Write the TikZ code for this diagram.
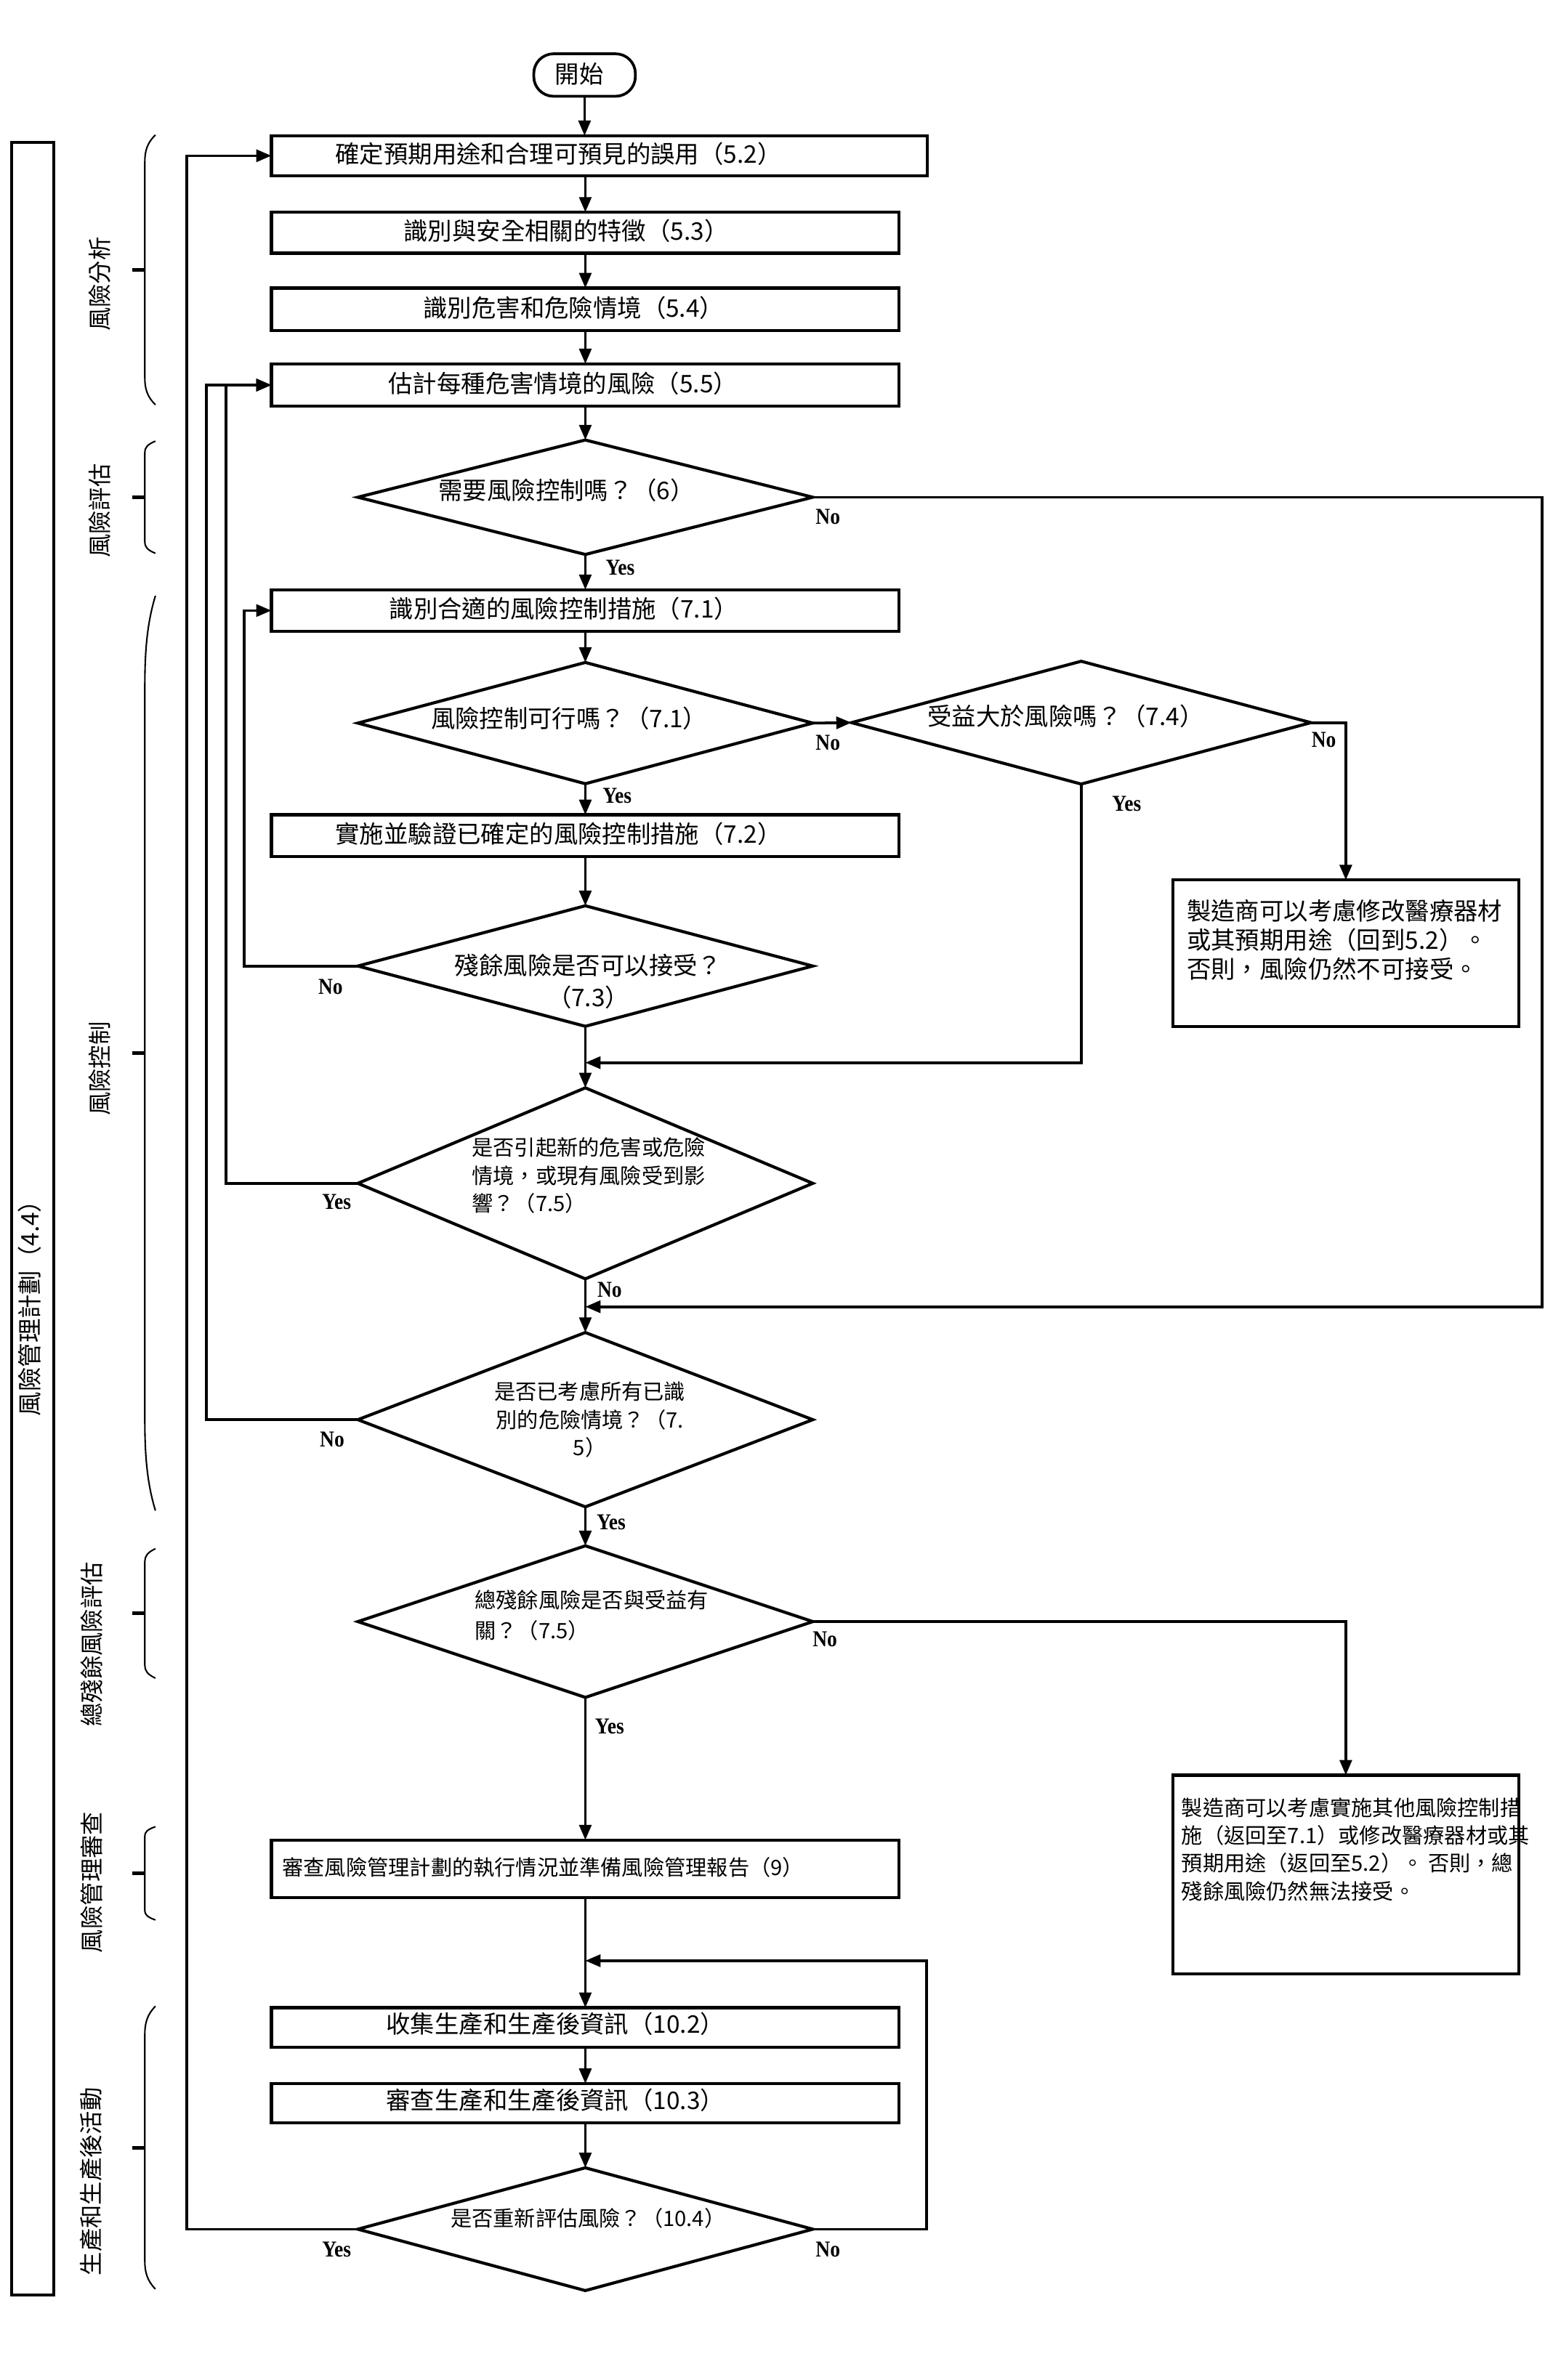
\documentclass[tikz,border=0pt]{standalone}
\usepackage{fontspec}
\setmainfont{Noto Sans CJK TC}
\newfontfamily\ynfont[FakeStretch=0.88]{Liberation Serif}
\usetikzlibrary{shapes.geometric,arrows.meta}
\begin{document}
\begin{tikzpicture}[x=1pt,y=-1pt,
  box/.style={draw, line width=2pt, rectangle, inner sep=0pt, outer sep=0pt},
  dia/.style={draw, line width=2pt, diamond, inner sep=0pt, outer sep=0pt},
  conn/.style={line width=1.8pt},
  arr/.style={conn, -{Triangle[length=10pt,width=8pt]}},
  tsixteen/.style={font=\fontsize{16}{19.5}\selectfont, inner sep=0pt},
  tfourteen/.style={font=\fontsize{14}{18.5}\selectfont, inner sep=0pt},
  yn/.style={font=\ynfont\bfseries\fontsize{15}{15}\selectfont, inner sep=0pt},
  phase/.style={rotate=90, font=\fontsize{15.5}{18}\selectfont, inner sep=0pt},
  bracel/.style={line width=1pt},
  tickl/.style={line width=2.5pt}
]
\fill[white] (0,0) rectangle (1024,1570);
\useasboundingbox (0,0) rectangle (1024,1570);

% left frame and phase labels
\node[box, minimum width=28pt, minimum height=1420pt] (plan) at (21.65,803.85) {};
\node[phase, font=\fontsize{16}{19}\selectfont] (plant) at (19.5,859) {風險管理計劃（4.4）};

\foreach \ta/\tb in {89/267, 291/365, 393/996.5, 1021.6/1107, 1205/1266.5, 1323.4/1510}{
  \pgfmathsetmacro\tc{0.1*(\tb-\ta)}
  \pgfmathsetmacro\tm{0.5*(\tb+\ta)}
  \draw[bracel] (102.5,\ta) .. controls (97,\ta+0.3*\tc) and (95.5,\ta+0.6*\tc) .. (95.5,\ta+\tc) -- (95.5,\tb-\tc) .. controls (95.5,\tb-0.6*\tc) and (97,\tb-0.3*\tc) .. (102.5,\tb);
  \draw[tickl] (87,\tm) -- (95.5,\tm);
}
\node[phase] (p1) at (65.6,187.5) {風險分析};
\node[phase] (p2) at (65.6,337) {風險評估};
\node[phase] (p3) at (65.6,705) {風險控制};
\node[phase] (p4) at (60.4,1084.6) {總殘餘風險評估};
\node[phase] (p5) at (60.4,1241.7) {風險管理審查};
\node[phase] (p6) at (60,1439) {生產和生產後活動};

% start
\node[draw, line width=1.8pt, rounded corners=13pt, minimum width=67pt, minimum height=28pt, inner sep=0pt, outer sep=0pt] (st) at (385.5,49.5) {};
\node[tsixteen] (xst) at (382,49) {開始};

% boxes
\node[box, minimum width=432.5pt, minimum height=26.5pt] (b52) at (395.25,102.75) {};
\node[box, minimum width=414pt, minimum height=27pt] (b53) at (386,153.5) {};
\node[box, minimum width=414pt, minimum height=28pt] (b54) at (386,204) {};
\node[box, minimum width=414pt, minimum height=28pt] (b55) at (386,254) {};
\node[box, minimum width=414pt, minimum height=27.5pt] (b71) at (386,402.75) {};
\node[box, minimum width=414pt, minimum height=27.5pt] (b72) at (386,551.25) {};
\node[box, minimum width=414pt, minimum height=38pt] (b9) at (386,1232.75) {};
\node[box, minimum width=414pt, minimum height=26pt] (b102) at (386,1337.35) {};
\node[box, minimum width=414pt, minimum height=26pt] (b103) at (386,1387.5) {};
\node[box, minimum width=228pt, minimum height=96.5pt] (r1) at (887.5,628.75) {};
\node[box, minimum width=228pt, minimum height=131pt] (r2) at (887.5,1236.5) {};

% diamonds
\node[dia, minimum width=300pt, minimum height=75.5pt] (d6) at (386,328) {};
\node[dia, minimum width=300pt, minimum height=80pt] (d71) at (386,477) {};
\node[dia, minimum width=303pt, minimum height=81pt] (d74) at (713,476.7) {};
\node[dia, minimum width=300pt, minimum height=79.5pt] (d73) at (386,637.25) {};
\node[dia, minimum width=300pt, minimum height=126pt] (d75a) at (386,780.6) {};
\node[dia, minimum width=300pt, minimum height=115pt] (d75b) at (386,936.5) {};
\node[dia, minimum width=300pt, minimum height=100pt] (dtot) at (386,1069.7) {};
\node[dia, minimum width=300pt, minimum height=81pt] (d104) at (386,1470.5) {};

% texts
\node[tsixteen, anchor=west] (x52) at (221,101.5) {確定預期用途和合理可預見的誤用（5.2）};
\node[tsixteen, anchor=west] (x53) at (266,152.5) {識別與安全相關的特徵（5.3）};
\node[tsixteen, anchor=west] (x54) at (279,203) {識別危害和危險情境（5.4）};
\node[tsixteen, anchor=west] (x55) at (256,253) {估計每種危害情境的風險（5.5）};
\node[tsixteen, anchor=west] (x6) at (289,323.5) {需要風險控制嗎？（6）};
\node[tsixteen, anchor=west] (x71) at (256.5,401.5) {識別合適的風險控制措施（7.1）};
\node[tsixteen, anchor=west] (x71d) at (284,474) {風險控制可行嗎？（7.1）};
\node[tsixteen, anchor=west] (x74) at (611.5,472.5) {受益大於風險嗎？（7.4）};
\node[tsixteen, anchor=west] (x72) at (221,550) {實施並驗證已確定的風險控制措施（7.2）};
\node[tsixteen, align=center, font=\fontsize{16}{21}\selectfont] (x73) at (388,647.5) {殘餘風險是否可以接受？\\（7.3）};
\node[tsixteen, anchor=west, align=left, font=\fontsize{16}{19.3}\selectfont] (xr1) at (782.5,620) {製造商可以考慮修改醫療器材\\或其預期用途（回到5.2）。\\否則，風險仍然不可接受。};
\node[tfourteen, anchor=west, align=left] (x75a) at (311,775.6) {是否引起新的危害或危險\\情境，或現有風險受到影\\響？（7.5）};
\node[tfourteen, align=center] (x75b) at (389,936.5) {是否已考慮所有已識\\別的危險情境？（7.\\5）};
\node[tfourteen, anchor=west, align=left, font=\fontsize{14}{20}\selectfont] (xtot) at (313,1065.5) {總殘餘風險是否與受益有\\關？（7.5）};
\node[tfourteen, anchor=west] (x9) at (186,1232) {審查風險管理計劃的執行情況並準備風險管理報告（9）};
\node[tfourteen, anchor=west, align=left, font=\fontsize{14}{18.3}\selectfont] (xr2) at (779,1220) {製造商可以考慮實施其他風險控制措\\施（返回至7.1）或修改醫療器材或其\\預期用途（返回至5.2）。 否則，總\\殘餘風險仍然無法接受。};
\node[tsixteen, anchor=west] (x102) at (254.5,1335) {收集生產和生產後資訊（10.2）};
\node[tsixteen, anchor=west] (x103) at (254.5,1385.5) {審查生產和生產後資訊（10.3）};
\node[tfourteen, anchor=west] (x104) at (297,1463.5) {是否重新評估風險？（10.4）};

% junction points
\coordinate (j1) at (386,701);
\coordinate (j2) at (386,862);
\coordinate (j3) at (386,1293.4);
\coordinate (e6) at (1017,328);
\coordinate (e104) at (611,1470.5);

% connectors
\draw[arr] (st.south) -- (st.south |- b52.north);
\draw[arr] (b53.north |- b52.south) -- (b53.north);
\draw[arr] (b53.south) -- (b54.north);
\draw[arr] (b54.south) -- (b55.north);
\draw[arr] (b55.south) -- (d6.north);
\draw[arr] (d6.south) -- (b71.north);
\draw[arr] (b71.south) -- (d71.north);
\draw[arr] (d71.south) -- (b72.north);
\draw[arr] (d71.east) -- (d74.west);
\draw[arr] (d74.east) -| (r1.north);
\draw[arr] (d74.south) |- (j1);
\draw[arr] (b72.south) -- (d73.north);
\draw[arr] (d73.south) -- (d75a.north);
\draw[arr] (d73.west) -- ++(-75,0) |- (b71.west);
\draw[arr] (d75a.west) -- ++(-87,0) |- (b55.west);
\draw[arr] (d75a.south) -- (d75b.north);
\draw[arr] (d6.east) -- (e6) |- (j2);
\draw[arr] (d75b.west) -- ++(-100,0) |- (b55.west);
\draw[arr] (d75b.south) -- (dtot.north);
\draw[arr] (dtot.east) -| (r2.north);
\draw[arr] (dtot.south) -- (b9.north);
\draw[arr] (b9.south) -- (b102.north);
\draw[arr] (b102.south) -- (b103.north);
\draw[arr] (b103.south) -- (d104.north);
\draw[arr] (d104.west) -- ++(-113,0) |- (b52.west);
\draw[arr] (d104.east) -- (e104) |- (j3);

% Yes / No labels
\node[yn] (l1) at (546,341) {No};
\node[yn] (l2) at (409,374.5) {Yes};
\node[yn] (l3) at (546,490) {No};
\node[yn] (l4) at (407,525) {Yes};
\node[yn] (l5) at (873,488) {No};
\node[yn] (l6) at (743,530) {Yes};
\node[yn] (l7) at (218,651) {No};
\node[yn] (l8) at (222,793) {Yes};
\node[yn] (l9) at (402,851) {No};
\node[yn] (l10) at (219,949.5) {No};
\node[yn] (l11) at (403,1004) {Yes};
\node[yn] (l12) at (544,1081.5) {No};
\node[yn] (l13) at (402,1139) {Yes};
\node[yn] (l14) at (222,1484) {Yes};
\node[yn] (l15) at (546,1484) {No};
\end{tikzpicture}
\end{document}
